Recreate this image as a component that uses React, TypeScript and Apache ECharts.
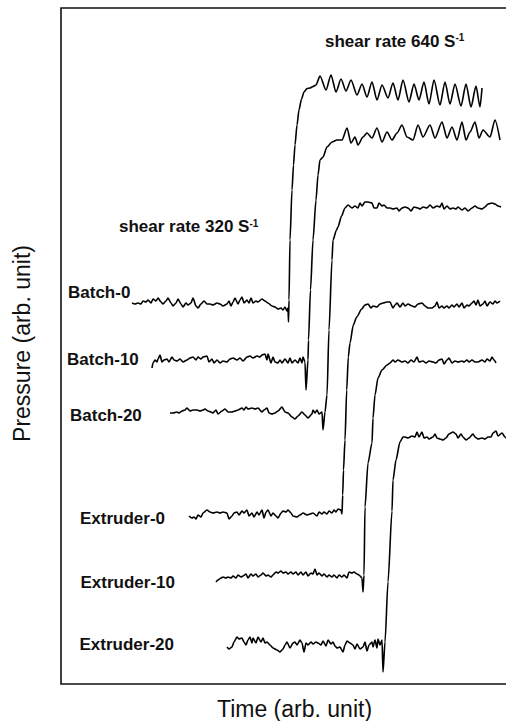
import React, { useEffect, useRef } from 'react';
import * as echarts from 'echarts';

// Trace names (left-hand labels)
const traceNames = ['Batch-0', 'Batch-10', 'Batch-20', 'Extruder-0', 'Extruder-10', 'Extruder-20'];
const shearTexts = ['shear rate 640 S', 'shear rate 320 S'];
const shearExponent = '-1';
const xTitle = 'Time (arb. unit)';
const yTitle = 'Pressure (arb. unit)';

// [time, pressure] in arbitrary units
const batch0: number[][] = [
  [71,381],[74,380],[77,381],[80,380],[82,383],[85,382],[87,384],[90,381],[92,385],[95,383],[97,386],[100,382],[102,380],[105,383],[107,386],[110,381],[112,378],[115,381],[117,385],[120,380],[122,377],[125,381],[127,379],[130,381],[132,386],[135,378],[137,376],[140,380],[143,383],[146,380],[149,380],[152,379],[156,381],[159,380],[162,378],[166,380],[168,383],[170,378],[172,382],[174,386],[177,380],[179,384],[181,387],[183,381],[186,384],[188,381],[190,386],[192,381],[195,383],[197,382],[201,385],[204,383],[207,381],[211,378],[214,377],[217,375],[220,376],[222,374],[224,377],[226,373],[227,376],[227.5,362],[228,384],[229,444],[231,494],[232.5,519],[234,539],[236,559],[238,574],[240.5,585],[243,592],[246,595.5],[249,596],[252,597.5],[255,599],
  [259,608],[265,594],[270,609],[275,592],[280,605],[285,593],[290,604],[296,589],[301,600],[306,587],[311,602],[316,584],[321,599],[327,586],[332,601],[337,584],[342,604],[348,582],[353,600],[358,584],[363,602],[368,580],[373,604],[379,579],[384,602],[389,580],[394,600],[400,578],[405,600],[410,577],[415,598],[419,577],[421,596]
];
const batch10: number[][] = [
  [91,316],[92,321],[94,324],[96,322],[97,325],[99,329],[101,322],[103,324],[106,325],[108,322],[111,327],[113,324],[116,323],[119,325],[122,322],[126,324],[129,326],[132,327],[135,324],[137,327],[140,325],[142,327],[146,328],[148,322],[151,325],[153,321],[156,324],[159,321],[162,323],[166,322],[169,325],[172,326],[176,324],[179,326],[182,323],[186,327],[189,328],[192,326],[196,328],[199,327],[201,329],[204,330],[206,324],[207,330],[210,321],[212,327],[214,322],[217,321],[219,324],[221,321],[224,325],[227,321],[229,326],[231,321],[234,324],[237,321],[239,326],[241,321],[242,327],[244,322],[245,294],[247,324],[247.5,344],[249.5,394],[252,444],[255,484],[257,509],[259,524],[262,527],[266,537],[271,542],[276,544],[281,544],
  [286,556],[290,541],[294,547],[297,539],[302,547],[306,551],[311,546],[316,556],[321,542],[326,552],[331,544],[336,551],[341,559],[346,547],[352,544],[357,559],[362,547],[369,559],[374,546],[381,562],[386,546],[391,557],[396,544],[401,562],[405,544],[409,552],[414,562],[418,546],[422,554],[429,547],[434,564],[439,544]
];
const batch20: number[][] = [
  [109,271],[112,271],[116,272],[118,271],[121,273],[124,274],[126,276],[129,273],[132,274],[136,274],[139,273],[142,274],[144,275],[147,273],[150,272],[152,271],[155,274],[157,270],[161,273],[164,275],[167,272],[171,272],[174,273],[177,274],[181,276],[183,274],[185,277],[187,275],[191,276],[194,275],[197,276],[201,272],[203,274],[206,276],[208,271],[211,270],[214,271],[217,273],[221,277],[224,272],[227,271],[231,267],[234,265],[237,268],[241,272],[244,269],[247,266],[251,270],[252,274],[254,271],[256,274],[258,270],[261,272],[262,254],[264,272],[266,289],[268,354],[271,424],[272,444],[275.5,454],[277,457],[280.5,468],[284,476],[287,479],
  [291,476],[294,478],[297,476],[299,481],[301,478],[304,482],[307,482],[311,481],[313,476],[316,476],[318,481],[321,478],[323,479],[326,476],[329,476],[332,475],[336,476],[338,473],[341,476],[344,477],[347,476],[350,473],[353,477],[357,476],[359,475],[362,477],[366,476],[369,479],[372,476],[376,478],[379,477],[381,481],[383,475],[386,478],[389,475],[392,476],[395,475],[397,477],[401,474],[404,476],[407,473],[411,476],[414,478],[417,476],[421,475],[424,477],[427,480],[431,481],[434,480],[437,478],[440,477]
];
const extruder0: number[][] = [
  [128,168],[131,166],[133,167],[135,165],[137,169],[140,167],[142,171],[146,174],[149,172],[152,171],[156,172],[159,171],[162,172],[166,171],[168,165],[171,168],[173,171],[176,172],[178,169],[181,173],[183,171],[186,174],[188,168],[191,171],[193,167],[196,172],[198,169],[201,174],[203,166],[205,172],[207,174],[210,168],[212,171],[215,168],[217,166],[220,171],[222,173],[225,172],[227,174],[230,171],[232,168],[236,167],[239,169],[242,171],[246,169],[249,170],[252,171],[256,168],[258,172],[261,170],[263,172],[266,170],[268,173],[271,171],[273,174],[275,172],[277,175],[280,174],[281,170],[281.7,189],[282.5,214],[284,244],[285.7,294],[287.3,327],[289,341],[292.3,359],[295.7,367],[300.7,375],[304,379],
  [307,380],[310,376],[312,378],[316,377],[319,380],[322,381],[326,382],[329,382],[332,376],[334,379],[336,381],[339,377],[342,381],[344,378],[347,380],[351,378],[354,377],[357,380],[361,381],[364,378],[367,376],[371,376],[374,378],[376,382],[378,376],[381,378],[383,376],[386,378],[388,376],[391,379],[393,377],[396,380],[398,377],[401,381],[403,376],[406,379],[408,378],[411,381],[413,383],[415,379],[417,384],[419,378],[422,380],[424,383],[426,378],[429,382],[432,380],[434,383],[436,381],[439,383]
];
const extruder10: number[][] = [
  [155,102],[157,104],[160,106],[162,107],[165,106],[167,107],[170,106],[172,108],[175,106],[177,109],[180,107],[182,108],[185,110],[187,106],[190,110],[192,108],[195,110],[197,107],[200,109],[202,111],[205,108],[207,109],[210,107],[212,109],[215,112],[217,111],[220,113],[222,111],[225,112],[227,110],[230,112],[232,110],[235,112],[237,109],[240,112],[242,109],[245,112],[247,108],[250,111],[252,110],[254,115],[256,109],[258,111],[261,108],[263,110],[266,107],[268,109],[271,107],[273,109],[276,106],[278,109],[281,107],[283,109],[286,106],[288,112],[291,111],[293,112],[296,110],[298,109],[301,106],[302,92],[303,109],[304,177],[307,221],[311,241],[312,266],[314,289],[317,306],[321,314],[326,319],
  [329,321],[332,324],[334,322],[337,324],[341,322],[344,323],[347,321],[350,324],[353,322],[356,327],[358,322],[362,323],[365,321],[368,323],[372,322],[375,321],[378,324],[381,325],[383,320],[386,324],[388,326],[391,321],[394,323],[397,322],[401,323],[403,322],[406,324],[408,322],[411,324],[414,322],[417,322],[421,324],[424,322],[426,325],[429,323],[431,327],[433,324],[435,321]
];
const extruder20: number[][] = [
  [166,37],[168,35],[171,37],[173,42],[176,47],[178,45],[181,46],[183,42],[185,39],[187,44],[189,47],[191,41],[192,46],[195,41],[197,47],[200,42],[202,46],[204,41],[206,42],[209,39],[212,36],[216,34],[219,32],[222,35],[224,39],[226,42],[229,36],[232,41],[234,42],[236,39],[239,44],[241,41],[243,32],[245,41],[247,39],[250,42],[252,40],[255,42],[257,41],[260,39],[262,43],[265,38],[267,44],[270,40],[272,42],[274,38],[276,36],[279,37],[282,32],[284,39],[286,43],[289,41],[292,39],[294,35],[296,40],[299,35],[302,37],[304,42],[306,33],[308,39],[311,42],[312,37],[314,44],[316,36],[317,45],[319,39],[321,44],[322,12],[324,42],[327,102],[331,173],[332,204],[335,224],[339,242],[342,247],
  [344,247],[347,246],[351,248],[354,247],[356,252],[358,247],[361,252],[363,246],[366,247],[368,245],[372,247],[374,250],[376,246],[379,245],[382,244],[385,246],[388,250],[392,252],[395,250],[397,246],[400,250],[402,247],[405,244],[408,246],[412,250],[414,247],[417,245],[421,246],[424,245],[427,247],[430,247],[432,251],[435,253],[437,248],[441,251],[444,247],[446,245]
];

const traces = [batch0, batch10, batch20, extruder0, extruder10, extruder20];

const FONT = '"Liberation Sans", Arial, Helvetica, sans-serif';

export default function App() {
  const ref = useRef<HTMLDivElement>(null);
  useEffect(() => {
    if (!ref.current) return;
    const chart = echarts.init(ref.current, null, { renderer: 'svg' });
    const labelPos = [[68, 292.5], [67, 359], [70, 415.5], [80, 518.5], [80.5, 582.5], [79.5, 644]];
    const shearPos = [[325, 41], [119, 226.5]];
    const labelStyle = { fontSize: 17, fontWeight: 'bold', fontFamily: FONT, fill: '#111' };
    chart.setOption({
      animation: false,
      backgroundColor: '#fff',
      grid: {
        left: 61, top: 8, width: 460, height: 676,
        outerBoundsMode: 'none',
        containLabel: false,
        show: true, borderColor: '#111', borderWidth: 1.6, backgroundColor: 'transparent'
      },
      xAxis: { type: 'value', min: 0, max: 460, show: false },
      yAxis: { type: 'value', min: 0, max: 676, show: false },
      series: traces.map((d, i) => ({
        type: 'line',
        name: traceNames[i],
        data: d,
        symbol: 'none',
        smooth: 0.25,
        smoothMonotone: 'x',
        silent: true,
        lineStyle: { color: '#000', width: 1.6 }
      })),
      graphic: [
        ...traceNames.map((n, i) => ({
          type: 'text', x: labelPos[i][0], y: labelPos[i][1], silent: true,
          style: { ...labelStyle, text: n, align: 'left', verticalAlign: 'middle' }
        })),
        ...shearTexts.map((t, i) => ({
          type: 'text', x: shearPos[i][0], y: shearPos[i][1], silent: true,
          style: {
            text: `{m|${t}}{s|${shearExponent}}`,
            align: 'left', verticalAlign: 'middle',
            rich: {
              m: { fontSize: 17, fontWeight: 'bold', fontFamily: FONT, fill: '#111' },
              s: { fontSize: 10, fontWeight: 'bold', fontFamily: FONT, fill: '#111', verticalAlign: 'top' }
            }
          }
        })),
        {
          type: 'text', x: 294.5, y: 709, silent: true,
          style: { text: xTitle, fontSize: 23, fontFamily: FONT, fill: '#111', align: 'center', verticalAlign: 'middle' }
        },
        {
          type: 'text', x: 22, y: 343.5, rotation: Math.PI / 2, silent: true,
          style: { text: yTitle, fontSize: 23, fontFamily: FONT, fill: '#111', align: 'center', verticalAlign: 'middle' }
        }
      ]
    });
    return () => chart.dispose();
  }, []);
  return <div ref={ref} style={{ position: 'absolute', left: 0, top: 0, width: 506, height: 721, background: '#fff' }} />;
}
